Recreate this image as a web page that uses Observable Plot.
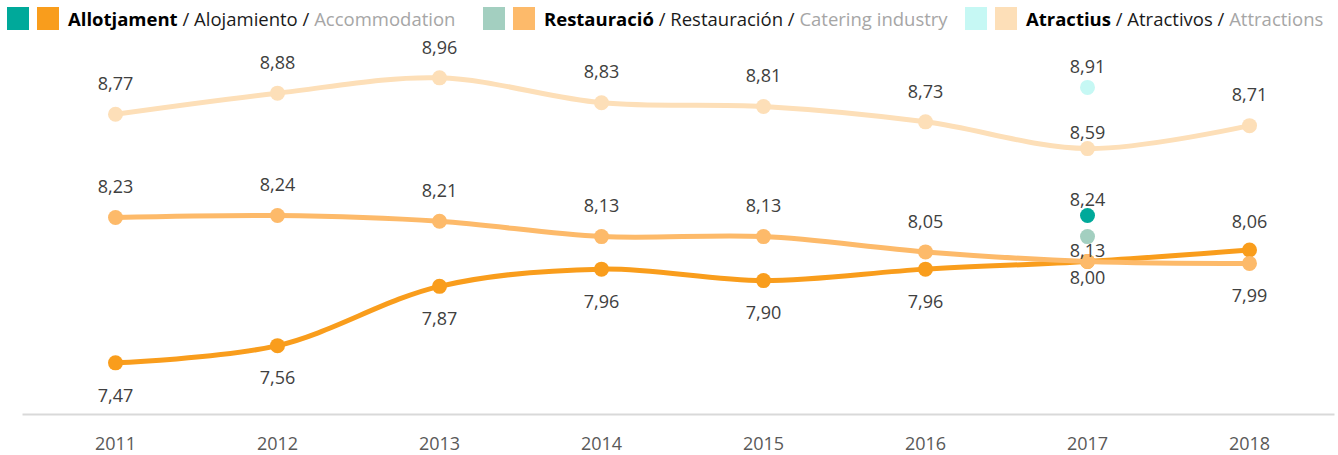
<!DOCTYPE html>
<html><head><meta charset="utf-8">
<script src="https://cdn.jsdelivr.net/npm/d3@7"></script>
<script src="https://cdn.jsdelivr.net/npm/@observablehq/plot@0.6"></script>
<style>
body{margin:0;background:#fff;font-family:"Open Sans",sans-serif;}
#legend{position:relative;height:30px;width:1338px;}
.item{position:absolute;top:7px;display:flex;align-items:center;height:23px;font-size:18.5px;white-space:nowrap;}
.sw{width:22px;height:23px;margin-right:8px;}
.sw.last{margin-right:9px;}
.t1{font-weight:bold;color:#000;}
.t2{color:#1a1a1a;}
.t3{color:#a6a6a6;}
#chart svg{display:block;}
</style>
</head><body>
<div id="legend"></div>
<div id="chart"></div>
<script>
// ---- data ----
const years = [2011, 2012, 2013, 2014, 2015, 2016, 2017, 2018];
const seriesNames = ["Allotjament", "Restauració", "Atractius"];
const allotjament = [7.47, 7.56, 7.87, 7.96, 7.90, 7.96, 8.00, 8.06];
const restauracio = [8.23, 8.24, 8.21, 8.13, 8.13, 8.05, 8.00, 7.99];
const atractius   = [8.77, 8.88, 8.96, 8.83, 8.81, 8.73, 8.59, 8.71];
const newYear = 2017;
const newNames = ["Allotjament (nou)", "Restauració (nou)", "Atractius (nou)"];
const newValues = [8.24, 8.13, 8.91];
const legendCa = ["Allotjament", "Restauració", "Atractius"];
const legendEs = ["Alojamiento", "Restauración", "Atractivos"];
const legendEn = ["Accommodation", "Catering industry", "Attractions"];

// ---- styles ----
const lineColors = {"Allotjament": "#F99D1C", "Restauració": "#FDBA6A", "Atractius": "#FDDFB8"};
const newColors = {"Allotjament (nou)": "#00A99A", "Restauració (nou)": "#A3CFC0", "Atractius (nou)": "#C6F8F4"};
const labelSide = {"Allotjament": 33, "Restauració": -30, "Atractius": -30};
const labelOverride = {
  "Allotjament-2017": 17, "Allotjament-2018": -28,
  "Restauració-2017": null, "Restauració-2018": 33, "Atractius-2017": -15,
  "Allotjament (nou)-2017": -15, "Restauració (nou)-2017": 15, "Atractius (nou)-2017": -20
};
const fmt = v => v.toFixed(2).replace(".", ",");

const valuesBy = {"Allotjament": allotjament, "Restauració": restauracio, "Atractius": atractius};
const rows = seriesNames.flatMap(s => years.map((y, i) => ({serie: s, year: String(y), value: valuesBy[s][i]})));
const newRows = newNames.map((s, i) => ({serie: s, year: String(newYear), value: newValues[i]}));

function dyFor(d) {
  const k = d.serie + "-" + d.year;
  if (k in labelOverride) return labelOverride[k];
  return labelSide[d.serie];
}
const labelRows = [...rows, ...newRows].filter(d => dyFor(d) !== null);

// ---- legend ----
const legendLeft = [7, 483, 965];
const leg = document.getElementById("legend");
seriesNames.forEach((s, i) => {
  const it = document.createElement("div");
  it.className = "item";
  it.style.left = legendLeft[i] + "px";
  it.innerHTML = `<span class="sw" style="background:${newColors[newNames[i]]}"></span>` +
    `<span class="sw last" style="background:${lineColors[s]}"></span>` +
    `<span class="t1">${legendCa[i]}</span><span class="t2">&nbsp;/ ${legendEs[i]} /&nbsp;</span><span class="t3">${legendEn[i]}</span>`;
  leg.appendChild(it);
});

// ---- chart ----
const marks = [];
seriesNames.forEach(s => {
  const data = rows.filter(d => d.serie === s);
  marks.push(Plot.line(data, {x: "year", y: "value", stroke: lineColors[s], strokeWidth: 5, curve: "catmull-rom"}));
  marks.push(Plot.dot(data, {x: "year", y: "value", fill: lineColors[s], r: 7.5}));
});
marks.push(Plot.dot(newRows, {x: "year", y: "value", fill: d => newColors[d.serie], r: 7.5}));
labelRows.forEach(d => {
  marks.push(Plot.text([d], {x: "year", y: "value", text: d => fmt(d.value), dy: dyFor(d),
    fill: "#404040", fontSize: 18, lineAnchor: "middle", textAnchor: "middle"}));
});

const chart = Plot.plot({
  width: 1338,
  height: 425,
  marginTop: 11,
  marginBottom: 41,
  marginLeft: 23,
  marginRight: 5,
  style: {fontFamily: "'Open Sans', sans-serif", background: "#fff"},
  x: {type: "point", domain: years.map(String), range: [112, 1252], padding: 0},
  y: {domain: [7.2, 9.15], axis: null},
  marks: [
    Plot.frame({anchor: "bottom", stroke: "#d9d9d9", strokeWidth: 2}),
    Plot.axisX({tickSize: 0, tickPadding: 23, fontSize: 18, fill: "#595959", label: null}),
    ...marks
  ]
});
document.getElementById("chart").appendChild(chart);
</script>
</body></html>
